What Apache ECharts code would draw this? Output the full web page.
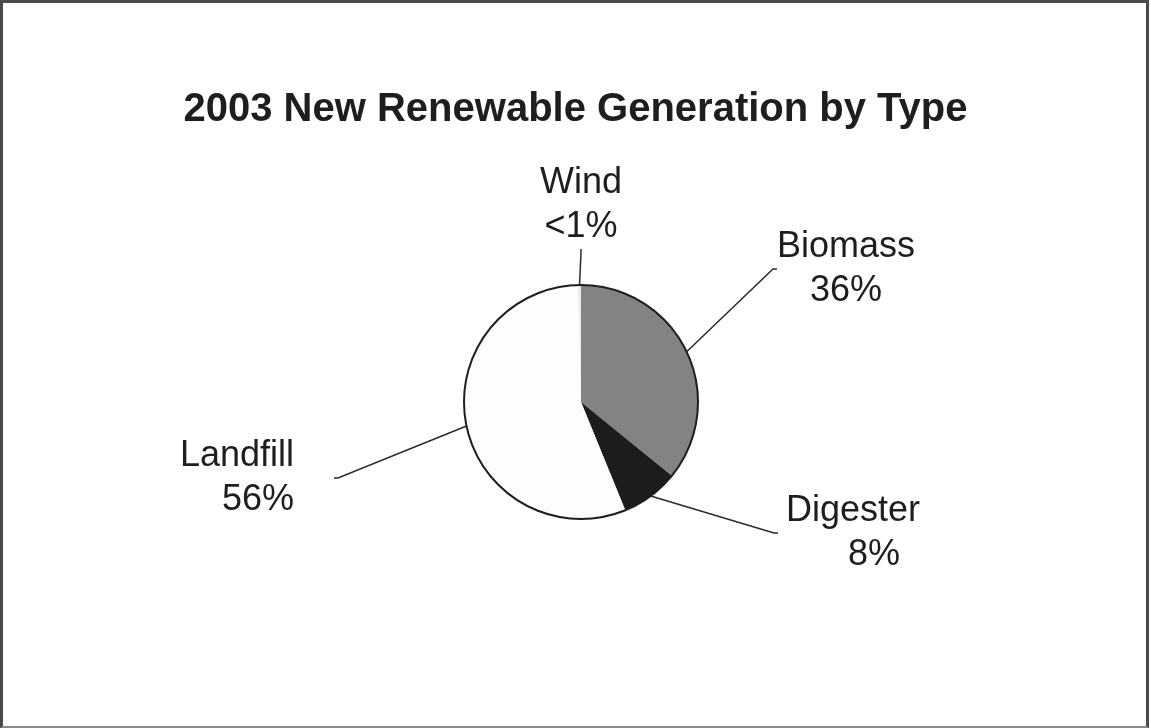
<!DOCTYPE html>
<html>
<head>
<meta charset="utf-8">
<script src="https://cdn.jsdelivr.net/npm/echarts@6/dist/echarts.min.js"></script>
<style>
  html, body { margin: 0; padding: 0; background: #ffffff; }
  #wrap { position: relative; width: 1151px; height: 728px; }
  #chart { position: absolute; left: 0; top: 0; width: 1151px; height: 728px; }
  #frame {
    position: absolute; left: 0; top: 0; width: 1149px; height: 728px;
    box-sizing: border-box; pointer-events: none;
    border-top: 3px solid #4a4a4a; border-left: 3px solid #4a4a4a;
    border-right: 3px solid #4a4a4a; border-bottom: 2px solid #8a8a8a;
  }
</style>
</head>
<body>
<div id="wrap"><div id="chart"></div><div id="frame"></div></div>
<script>
// Chart content
const titleText = '2003 New Renewable Generation by Type';
const categories = ['Biomass', 'Digester', 'Landfill', 'Wind'];
const shares = [36, 8, 56, 0.4];   // percent of new generation; Wind is "<1%"

// Slice fills, in category order
const sliceColors = ['#838383', '#1c1c1c', '#fdfdfd', '#ececec'];

// Where each two-line label sits, and how its lines line up
const labelPlacement = {
  Biomass:  { x: 846, y: 269, align: 'center', pad: [0, 0, 0, 0],  valuePad: [0, 0, 0, 0] },
  Digester: { x: 920, y: 533, align: 'right',  pad: [0, 0, 0, 8],  valuePad: [0, 20, 0, 0] },
  Landfill: { x: 334, y: 478, align: 'right',  pad: [0, 40, 0, 0], valuePad: [0, 0, 0, 0] },
  Wind:     { x: 581, y: 205, align: 'center', pad: [0, 0, 0, 0],  valuePad: [0, 0, 0, 0] }
};

const FONT = 'Liberation Sans, Arial, sans-serif';
const TEXT_COLOR = '#1e1e1e';

function pctText(v) {
  return (v < 1 ? '<1' : String(v)) + '%';
}

const pieData = categories.map(function (name, i) {
  const p = labelPlacement[name];
  return {
    name: name,
    value: shares[i],
    itemStyle: { color: sliceColors[i] },
    label: {
      padding: p.pad,
      rich: {
        n: { fontFamily: FONT, fontSize: 36, lineHeight: 44, color: TEXT_COLOR, align: p.align },
        v: { fontFamily: FONT, fontSize: 36, lineHeight: 44, color: TEXT_COLOR, align: p.align, padding: p.valuePad }
      }
    }
  };
});

const chart = echarts.init(document.getElementById('chart'), null, { renderer: 'canvas' });

chart.setOption({
  backgroundColor: '#ffffff',
  animation: false,
  title: {
    text: titleText,
    left: 'center',
    top: 85,
    textStyle: { fontFamily: FONT, fontWeight: 'bold', fontSize: 40, color: TEXT_COLOR }
  },
  series: [
    {
      type: 'pie',
      center: [581, 402],
      radius: 117,
      startAngle: 90,
      clockwise: true,
      silent: true,
      avoidLabelOverlap: false,
      itemStyle: { borderWidth: 0 },
      label: {
        show: true,
        position: 'outside',
        backgroundColor: 'rgba(255,255,255,0)',
        fontFamily: FONT,
        fontSize: 36,
        lineHeight: 44,
        color: TEXT_COLOR,
        formatter: function (p) {
          return '{n|' + p.name + '}\n{v|' + pctText(p.value) + '}';
        }
      },
      labelLine: {
        show: true,
        length: 10,
        length2: 4,
        lineStyle: { color: '#2a2a2a', width: 1.5 }
      },
      labelLayout: function (params) {
        const p = labelPlacement[categories[params.dataIndex]];
        return { x: p.x, y: p.y, align: p.align, verticalAlign: 'middle' };
      },
      data: pieData
    },
    {
      // outline of the whole pie
      type: 'pie',
      center: [581, 402],
      radius: 117,
      silent: true,
      label: { show: false },
      labelLine: { show: false },
      itemStyle: { color: 'rgba(0,0,0,0)', borderColor: '#1e1e1e', borderWidth: 2 },
      data: [{ name: 'outline', value: 1 }]
    }
  ]
});
</script>
</body>
</html>
